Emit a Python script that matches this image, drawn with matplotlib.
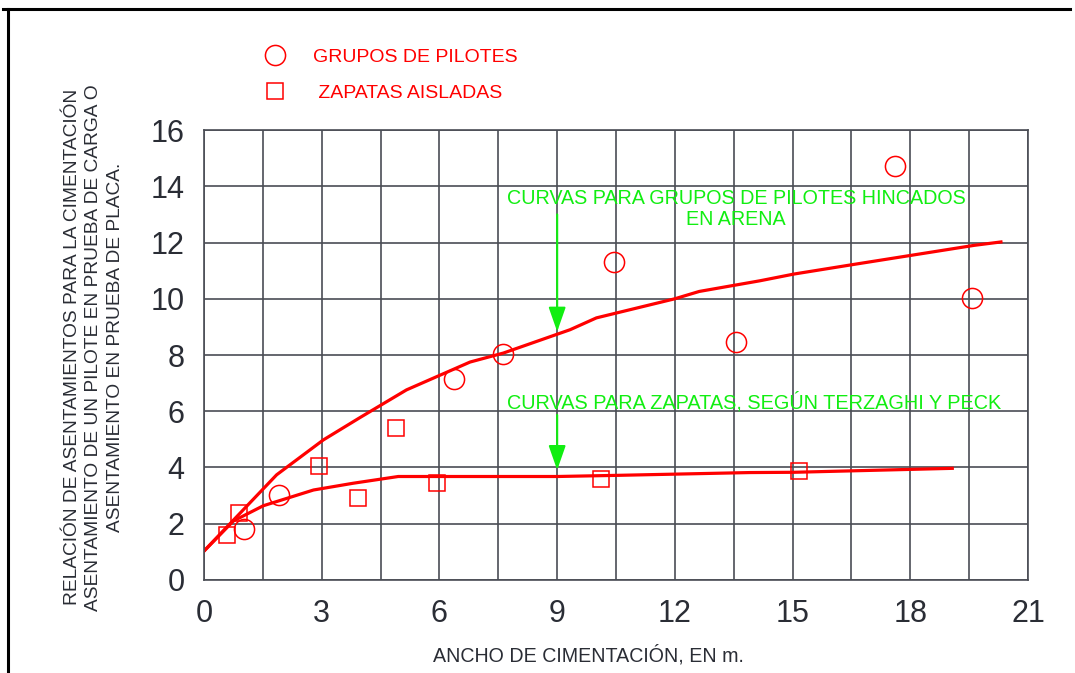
import numpy as np
import matplotlib.pyplot as plt
from matplotlib.lines import Line2D

# Data
pil_x = [1.03, 1.92, 6.37, 7.63, 10.45, 13.57, 17.61, 19.56]
pil_y = [1.80, 3.02, 7.14, 8.04, 11.29, 8.45, 14.72, 10.01]

zap_x = [0.58, 0.89, 2.92, 3.92, 4.88, 5.95, 10.11, 15.17]
zap_y = [1.61, 2.38, 4.07, 2.91, 5.40, 3.44, 3.58, 3.87]

curve_pil_x = [0, 0.75, 1.85, 3.04, 3.98, 5.16, 6.78, 7.63, 9.33, 10.0, 12.0, 12.62, 14.17, 15.04, 16.6, 19.63, 20.31]
curve_pil_y = [1.03, 2.13, 3.74, 4.98, 5.78, 6.76, 7.75, 8.07, 8.90, 9.32, 10.0, 10.26, 10.64, 10.88, 11.23, 11.90, 12.02]

curve_zap_x = [0, 0.75, 1.51, 2.79, 3.80, 4.95, 9.0, 10.5, 13.91, 15.04, 19.07]
curve_zap_y = [1.03, 2.10, 2.64, 3.20, 3.44, 3.68, 3.68, 3.72, 3.82, 3.83, 3.97]

x_ticks = [0, 3, 6, 9, 12, 15, 18, 21]
y_ticks = [0, 2, 4, 6, 8, 10, 12, 14, 16]

red = '#ff0000'
green = '#11ee11'
dark = '#2a2d35'
font = 'Liberation Sans'

plt.rcParams['font.family'] = [font, 'DejaVu Sans']

fig = plt.figure(figsize=(10.75, 6.73), dpi=100)
ax = fig.add_axes([0.1898, 0.1382, 0.7665, 0.6686])

ax.set_xlim(0, 21)
ax.set_ylim(0, 16)
ax.set_xticks(x_ticks)
ax.set_xticks(np.arange(0, 21.1, 1.5), minor=True)
ax.set_yticks(y_ticks)
ax.grid(True, which='both', color='#4a4d55', lw=1.2)
ax.tick_params(which='both', length=0)
ax.tick_params(axis='x', labelsize=22, labelcolor=dark, pad=14)
ax.tick_params(axis='y', labelsize=22, labelcolor=dark, pad=14)
for s in ax.spines.values():
    s.set_color('#4a4d55')
    s.set_linewidth(1.2)
ax.set_axisbelow(True)

ax.plot(curve_pil_x, curve_pil_y, color=red, lw=2.3, solid_joinstyle='round')
ax.plot(curve_zap_x, curve_zap_y, color=red, lw=2.3, solid_joinstyle='round')

ax.plot(pil_x, pil_y, ls='none', marker='o', ms=14.5, mfc='none', mec=red, mew=1.1,
        label='GRUPOS DE PILOTES')
ax.plot(zap_x, zap_y, ls='none', marker='s', ms=11, mfc='none', mec=red, mew=1.1,
        label=' ZAPATAS AISLADAS')

# green annotations
ax.text(13.56, 13.2, 'CURVAS PARA GRUPOS DE PILOTES HINCADOS\nEN ARENA', color=green,
        fontsize=14.2, ha='center', va='center', linespacing=1.15)
ax.annotate('', xy=(9, 8.83), xytext=(9, 13.0),
            arrowprops=dict(arrowstyle='-|>,head_length=1.0,head_width=0.35',
                            mutation_scale=15, color=green, lw=1.5, shrinkA=0, shrinkB=0))
ax.text(7.72, 6.33, 'CURVAS PARA ZAPATAS, SEGÚN TERZAGHI Y PECK', color=green,
        fontsize=14.3, ha='left', va='center')
ax.annotate('', xy=(9, 3.91), xytext=(9, 5.87),
            arrowprops=dict(arrowstyle='-|>,head_length=1.0,head_width=0.35',
                            mutation_scale=15, color=green, lw=1.5, shrinkA=0, shrinkB=0))

leg = ax.legend(loc='center left', bbox_to_anchor=((276 - 10.4) / 1075, 1 - 75 / 673),
                bbox_transform=fig.transFigure, frameon=False, borderpad=0, borderaxespad=0,
                handlelength=1.0, handletextpad=1.42, labelspacing=0.95,
                prop={'family': ['Liberation Sans Narrow', 'Liberation Sans'], 'size': 14})
for t in leg.get_texts():
    t.set_color(red)

fig.text(0.0874, 0.484,
         'RELACIÓN DE ASENTAMIENTOS PARA LA CIMENTACIÓN\n'
         'ASENTAMIENTO DE UN PILOTE EN PRUEBA DE CARGA O\n'
         'ASENTAMIENTO EN PRUEBA DE PLACA.',
         rotation=90, ha='center', va='center', multialignment='center',
         fontsize=13.8, color=dark, linespacing=1.38)
fig.text(0.547, 0.0267, 'ANCHO DE CIMENTACIÓN, EN m.', ha='center', va='center',
         fontsize=14.1, color=dark)

# outer frame lines (top and left)
fig.add_artist(Line2D([3 / 1075, 1070 / 1075], [1 - 9 / 673, 1 - 9 / 673],
                      color='black', lw=2.2, transform=fig.transFigure))
fig.add_artist(Line2D([7.5 / 1075, 7.5 / 1075], [1 - 9 / 673, 0],
                      color='black', lw=2.2, transform=fig.transFigure))

fig.savefig('out.png', dpi=100)
